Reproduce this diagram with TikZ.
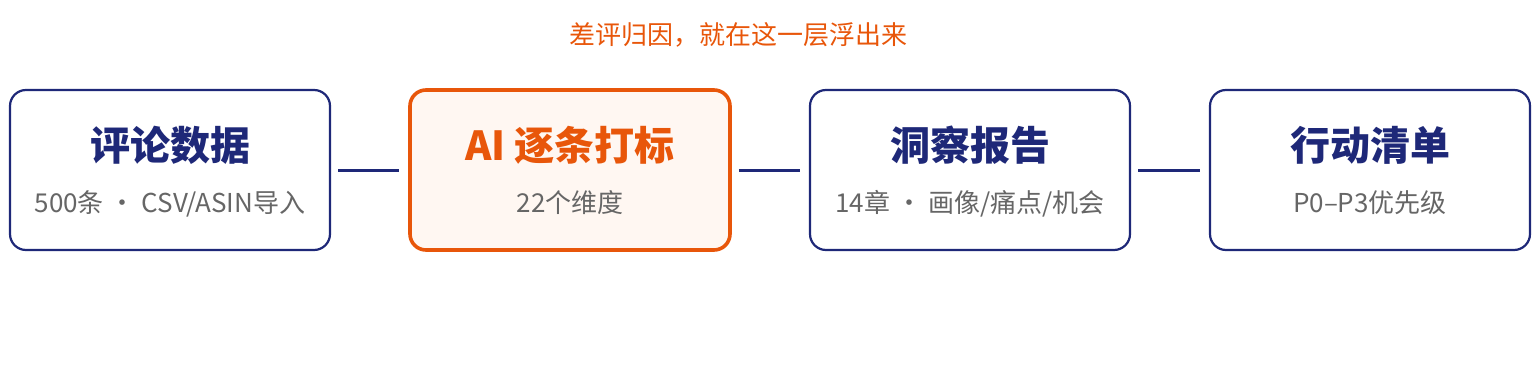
\documentclass[tikz,border=0pt]{standalone}
\usepackage{fontspec}
\setmainfont{Noto Sans CJK SC}
\definecolor{navy}{HTML}{1E2878}
\definecolor{orng}{HTML}{E8560A}
\definecolor{peach}{HTML}{FFF7F2}
\definecolor{subgray}{HTML}{666666}
\tikzset{
  stagebox/.style={draw=navy, line width=2.2pt, rounded corners=16pt, minimum width=320pt, minimum height=160pt, fill=white},
  hotbox/.style={stagebox, draw=orng, line width=3.6pt, fill=peach},
  ttl/.style={anchor=base, inner sep=0pt, font=\fontsize{40}{46}\selectfont\bfseries, text=navy},
  sub/.style={anchor=base, inner sep=0pt, font=\fontsize{26}{30}\selectfont, text=subgray},
  link/.style={draw=navy, line width=3pt, shorten <=7pt, shorten >=9pt}
}
\begin{document}
\begin{tikzpicture}[x=1pt,y=-1pt]
\useasboundingbox (0,0) rectangle (1540,380);
\node[stagebox] (b1) at (170,170) {};
\node[hotbox]   (b2) at (570,170) {};
\node[stagebox] (b3) at (970,170) {};
\node[stagebox] (b4) at (1370,170) {};
\node[ttl] (t1) at (170,160) {评论数据};
\node[ttl, text=orng] (t2) at (570,160) {AI 逐条打标};
\node[ttl] (t3) at (970,160) {洞察报告};
\node[ttl] (t4) at (1370,160) {行动清单};
\node[sub] (s1) at (170,212) {500条 · CSV/ASIN导入};
\node[sub] (s2) at (570,212) {22个维度};
\node[sub] (s3) at (970,212) {14章 · 画像/痛点/机会};
\node[sub] (s4) at (1370,212) {P0–P3优先级};
\node[anchor=base, inner sep=0pt, font=\fontsize{26}{30}\selectfont, text=orng] (lbl) at (738,44) {差评归因，就在这一层浮出来};
\draw[link] (b1.east) -- (b2.west);
\draw[link] (b2.east) -- (b3.west);
\draw[link] (b3.east) -- (b4.west);
\end{tikzpicture}
\end{document}
